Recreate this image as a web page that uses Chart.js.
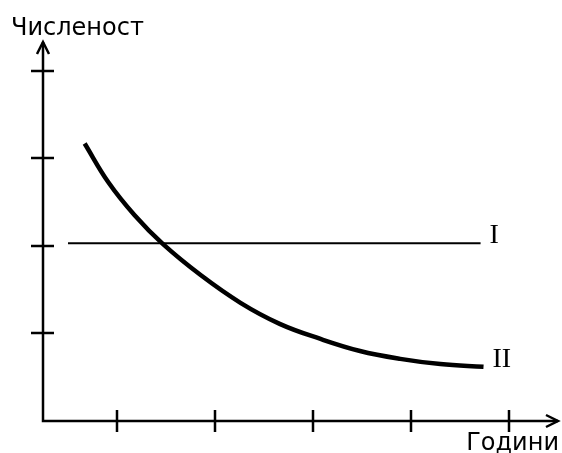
<!DOCTYPE html>
<html lang="bg">
<head>
    <meta charset="UTF-8">
    <title>Численост</title>
    <script src="https://cdn.jsdelivr.net/npm/chart.js"></script>
    <style>
        html, body { margin: 0; padding: 0; background: #fff; }
        canvas { display: block; }
    </style>
</head>
<body>
    <canvas id="myChart" width="562" height="453"></canvas>
    <script>
        // axis captions
        const yTitle = 'Численост';
        const xTitle = 'Години';

        // tick positions on both axes (no labels, just marks)
        const xTicks = [1, 2, 3, 4, 5];
        const yTicks = [1, 2, 3, 4];

        // line I - constant
        const lineIX = [0.5, 4.71];
        const lineIY = [2.03, 2.03];

        // line II - falling curve
        const lineIIX = [0.67, 0.91, 1.18, 1.47, 1.85, 2.26, 2.66, 3.07, 3.48, 3.89, 4.3, 4.74];
        const lineIIY = [3.17, 2.73, 2.35, 2.02, 1.67, 1.35, 1.11, 0.94, 0.8, 0.71, 0.65, 0.62];

        const seriesNames = ['I', 'II'];

        const toPoints = (xs, ys) => xs.map((x, i) => ({ x: x, y: ys[i] }));

        const axesPlugin = {
            id: 'axesPlugin',
            afterDatasetsDraw(chart) {
                const ctx = chart.ctx;
                const area = chart.chartArea;
                const sx = chart.scales.x;
                const sy = chart.scales.y;
                const ox = area.left;
                const oy = sy.getPixelForValue(0);

                ctx.save();
                ctx.strokeStyle = '#000';
                ctx.lineWidth = 2.5;
                ctx.lineCap = 'butt';

                // axes
                ctx.beginPath();
                ctx.moveTo(ox, area.top);
                ctx.lineTo(ox, oy);
                ctx.lineTo(area.right, oy);
                ctx.stroke();

                // arrows
                ctx.beginPath();
                ctx.moveTo(ox - 6, area.top + 12);
                ctx.lineTo(ox, area.top);
                ctx.lineTo(ox + 6, area.top + 12);
                ctx.moveTo(area.right - 12, oy - 6);
                ctx.lineTo(area.right, oy);
                ctx.lineTo(area.right - 12, oy + 6);
                ctx.stroke();

                // tick marks crossing the axes
                ctx.beginPath();
                xTicks.forEach(v => {
                    const px = Math.round(sx.getPixelForValue(v));
                    ctx.moveTo(px, oy - 11);
                    ctx.lineTo(px, oy + 11);
                });
                yTicks.forEach(v => {
                    const py = Math.round(sy.getPixelForValue(v));
                    ctx.moveTo(ox - 12, py);
                    ctx.lineTo(ox + 11, py);
                });
                ctx.stroke();

                // captions
                ctx.fillStyle = '#000';
                ctx.font = '24px "DejaVu Sans"';
                ctx.textBaseline = 'alphabetic';
                ctx.textAlign = 'left';
                ctx.fillText(yTitle, 11, 35);
                ctx.textAlign = 'right';
                ctx.fillText(xTitle, 559, 450);

                // series labels next to line ends
                ctx.font = '28px "Liberation Serif"';
                ctx.textAlign = 'left';
                chart.data.datasets.forEach((ds, i) => {
                    const last = ds.data[ds.data.length - 1];
                    const px = sx.getPixelForValue(last.x);
                    const py = sy.getPixelForValue(last.y);
                    ctx.fillText(seriesNames[i], px + 9, py);
                });
                ctx.restore();
            }
        };

        const config = {
            type: 'line',
            data: {
                datasets: [
                    {
                        label: seriesNames[0],
                        data: toPoints(lineIX, lineIY),
                        borderColor: '#000',
                        borderWidth: 2,
                        pointRadius: 0,
                        fill: false
                    },
                    {
                        label: seriesNames[1],
                        data: toPoints(lineIIX, lineIIY),
                        borderColor: '#000',
                        borderWidth: 4.5,
                        pointRadius: 0,
                        tension: 0.4,
                        fill: false
                    }
                ]
            },
            options: {
                responsive: false,
                animation: false,
                devicePixelRatio: 1,
                layout: { padding: { left: 43, right: 4, top: 42, bottom: 32 } },
                plugins: {
                    legend: { display: false },
                    tooltip: { enabled: false }
                },
                scales: {
                    x: { type: 'linear', min: 0.245, max: 5.5, display: false },
                    y: { type: 'linear', min: 0, max: 4.33, display: false }
                }
            },
            plugins: [axesPlugin]
        };

        new Chart(document.getElementById('myChart'), config);
    </script>
</body>
</html>
